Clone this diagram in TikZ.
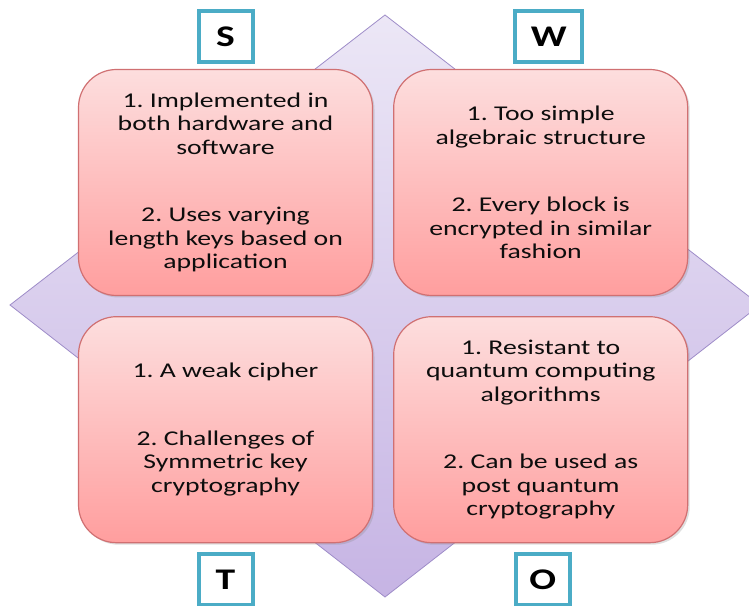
\documentclass[tikz,border=0pt]{standalone}
\usepackage{fontspec}
\setmainfont[FakeStretch=1.32]{Carlito}
\usetikzlibrary{shapes,positioning,shadows}
\definecolor{pinktop}{RGB}{253,222,222}
\definecolor{pinkbot}{RGB}{255,158,158}
\definecolor{pinkline}{RGB}{208,112,114}
\definecolor{lilactop}{RGB}{236,231,246}
\definecolor{lilacbot}{RGB}{198,180,228}
\definecolor{lilacline}{RGB}{158,140,200}
\definecolor{framecol}{RGB}{75,172,198}
\frenchspacing
\tikzstyle{quad} = [draw=pinkline, line width=1.2pt, rounded corners=38pt,
    top color=pinktop, bottom color=pinkbot,
    minimum width=294pt, minimum height=226pt, align=center,
    text=black!95, font=\fontsize{21pt}{23.5pt}\selectfont,
    drop shadow={opacity=0.25, shadow xshift=2pt, shadow yshift=-2pt}]
\tikzstyle{letter} = [draw=framecol, line width=4pt, fill=white,
    minimum width=54pt, minimum height=51pt, inner sep=0pt,
    font=\bfseries\fontsize{30pt}{30pt}\selectfont]

\begin{document}
\begin{tikzpicture}[x=1pt, y=1pt]
    \useasboundingbox (0,0) rectangle (749,605);
    \clip (0,0) rectangle (749,605);
    % The diamond goes behind everything else
    \draw [draw=lilacline, line width=0.8pt, top color=lilactop, bottom color=lilacbot]
        (10,300) -- (385,590) -- (760,300) -- (385,8) -- cycle;

    % We start by placing the four quadrants
    \node [quad] (strengths) at (225.5,422.5)
        {1. Implemented in\\ both hardware and\\ software\\[44pt]
         2. Uses varying\\ length keys based on\\ application};
    \node [quad, right=20pt of strengths] (weaknesses)
        {1. Too simple\\ algebraic structure\\[44pt]
         2. Every block is\\ encrypted in similar\\ fashion};
    \node [quad, below=20pt of strengths] (threats)
        {1. A weak cipher\\[44pt]
         2. Challenges of\\ Symmetric key\\ cryptography};
    \node [quad, right=20pt of threats] (opportunities)
        {1. Resistant to\\ quantum computing\\ algorithms\\[44pt]
         2. Can be used as\\ post quantum\\ cryptography};

    % The letters sit just outside their quadrant
    \node [letter, above=5pt of strengths] (s) {S};
    \node [letter, above=5pt of weaknesses, xshift=8pt, minimum width=67pt] (w) {W};
    \node [letter, below=9pt of threats] (t) {T};
    \node [letter, below=9pt of opportunities, xshift=2pt] (o) {O};
\end{tikzpicture}
\end{document}
